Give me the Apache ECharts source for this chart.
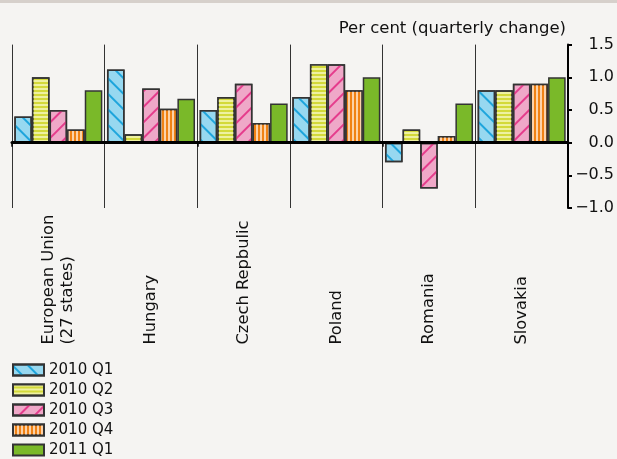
<!DOCTYPE html>
<html>
<head>
<meta charset="utf-8">
<script src="https://cdn.jsdelivr.net/npm/echarts@6/dist/echarts.min.js"></script>
<style>
html,body{margin:0;padding:0;background:#f5f4f2;}
#chart{width:617px;height:459px;}
</style>
</head>
<body>
<div id="chart"></div>
<script>
var categories = ['European Union\n(27 states)', 'Hungary', 'Czech Repbulic', 'Poland', 'Romania', 'Slovakia'];
var seriesNames = ['2010 Q1', '2010 Q2', '2010 Q3', '2010 Q4', '2011 Q1'];
var q1_2010 = [0.4, 1.12, 0.5, 0.7, -0.3, 0.8];
var q2_2010 = [1.0, 0.13, 0.7, 1.2, 0.2, 0.8];
var q3_2010 = [0.5, 0.83, 0.9, 1.2, -0.7, 0.9];
var q4_2010 = [0.2, 0.52, 0.3, 0.8, 0.1, 0.9];
var q1_2011 = [0.8, 0.67, 0.6, 1.0, 0.6, 1.0];
var yTicks = [-1.0, -0.5, 0.0, 0.5, 1.0, 1.5];
var axisTitle = 'Per cent (quarterly change)';

var FONT = 'DejaVu Sans';
var styles = [
  {color: '#97d8f0', decal: {symbol: 'rect', symbolSize: 1, color: '#1ea5dc', dashArrayX: [1, 0], dashArrayY: [2, 9], rotation: Math.PI / 4}},
  {color: '#d3d93a', decal: {symbol: 'rect', symbolSize: 1, color: '#eef1a0', dashArrayX: [1, 0], dashArrayY: [1.8, 1.8], rotation: 0}},
  {color: '#efa8c8', decal: {symbol: 'rect', symbolSize: 1, color: '#e53c8c', dashArrayX: [1, 0], dashArrayY: [2, 9], rotation: -Math.PI / 4}},
  {color: '#f08214', decal: {symbol: 'rect', symbolSize: 1, color: '#fcd2a8', dashArrayX: [1.5, 1.5], dashArrayY: [1, 0], rotation: 0}},
  {color: '#7ab929', decal: null}
];
var allData = [q1_2010, q2_2010, q3_2010, q4_2010, q1_2011];

var series = allData.map(function (d, i) {
  var st = {color: styles[i].color, borderColor: '#333', borderWidth: 1.5};
  if (styles[i].decal) st.decal = styles[i].decal;
  return {
    name: seriesNames[i],
    type: 'bar',
    data: d,
    xAxisIndex: 0,
    barGap: '0%',
    barCategoryGap: '5%',
    itemStyle: st,
    emphasis: {disabled: true}
  };
});

var chart = echarts.init(document.getElementById('chart'), null, {renderer: 'canvas'});
chart.setOption({
  backgroundColor: '#f5f4f2',
  animation: false,
  textStyle: {fontFamily: FONT},
  graphic: [{type: 'rect', left: 0, top: 0, shape: {width: 617, height: 3}, style: {fill: '#d6d0cb'}}],
  grid: {left: 12, right: 48, top: 44.6, bottom: 251, containLabel: false},
  legend: {
    orient: 'vertical', left: 12, top: 362.5, padding: 0, itemWidth: 31, itemHeight: 11, itemGap: 5,
    icon: 'rect', data: seriesNames,
    textStyle: {fontFamily: FONT, fontSize: 15, color: '#111', lineHeight: 15}
  },
  xAxis: [{
    type: 'category', data: categories, position: 'bottom',
    axisLine: {show: false, onZero: false},
    axisTick: {show: false},
    splitLine: {show: true, lineStyle: {color: '#333', width: 1}},
    axisLabel: {interval: 0, rotate: 90, align: 'left', margin: 136.5, fontFamily: FONT, fontSize: 16.3, color: '#111', lineHeight: 19}
  }, {
    type: 'category', data: categories, position: 'top', z: 10,
    axisLine: {show: true, onZero: true, lineStyle: {color: '#000', width: 3}},
    axisTick: {show: true, inside: true, length: 4, lineStyle: {color: '#000', width: 1.5}},
    axisLabel: {show: false},
    splitLine: {show: false}
  }],
  yAxis: {
    type: 'value', position: 'right', min: yTicks[0], max: yTicks[yTicks.length - 1], interval: 0.5,
    name: axisTitle, nameLocation: 'end', nameGap: 16,
    nameTextStyle: {fontFamily: FONT, fontSize: 16.5, color: '#111', align: 'right', verticalAlign: 'middle', padding: [0, 2, 0, 0]},
    axisLine: {show: true, lineStyle: {color: '#000', width: 2}},
    axisTick: {show: true, length: 4, lineStyle: {color: '#000', width: 2}},
    splitLine: {show: false},
    axisLabel: {margin: 46, align: 'right', fontFamily: FONT, fontSize: 16, color: '#111',
      formatter: function (v) { return v.toFixed(1).replace('-', '\u2212'); }}
  },
  series: series
});
</script>
</body>
</html>
